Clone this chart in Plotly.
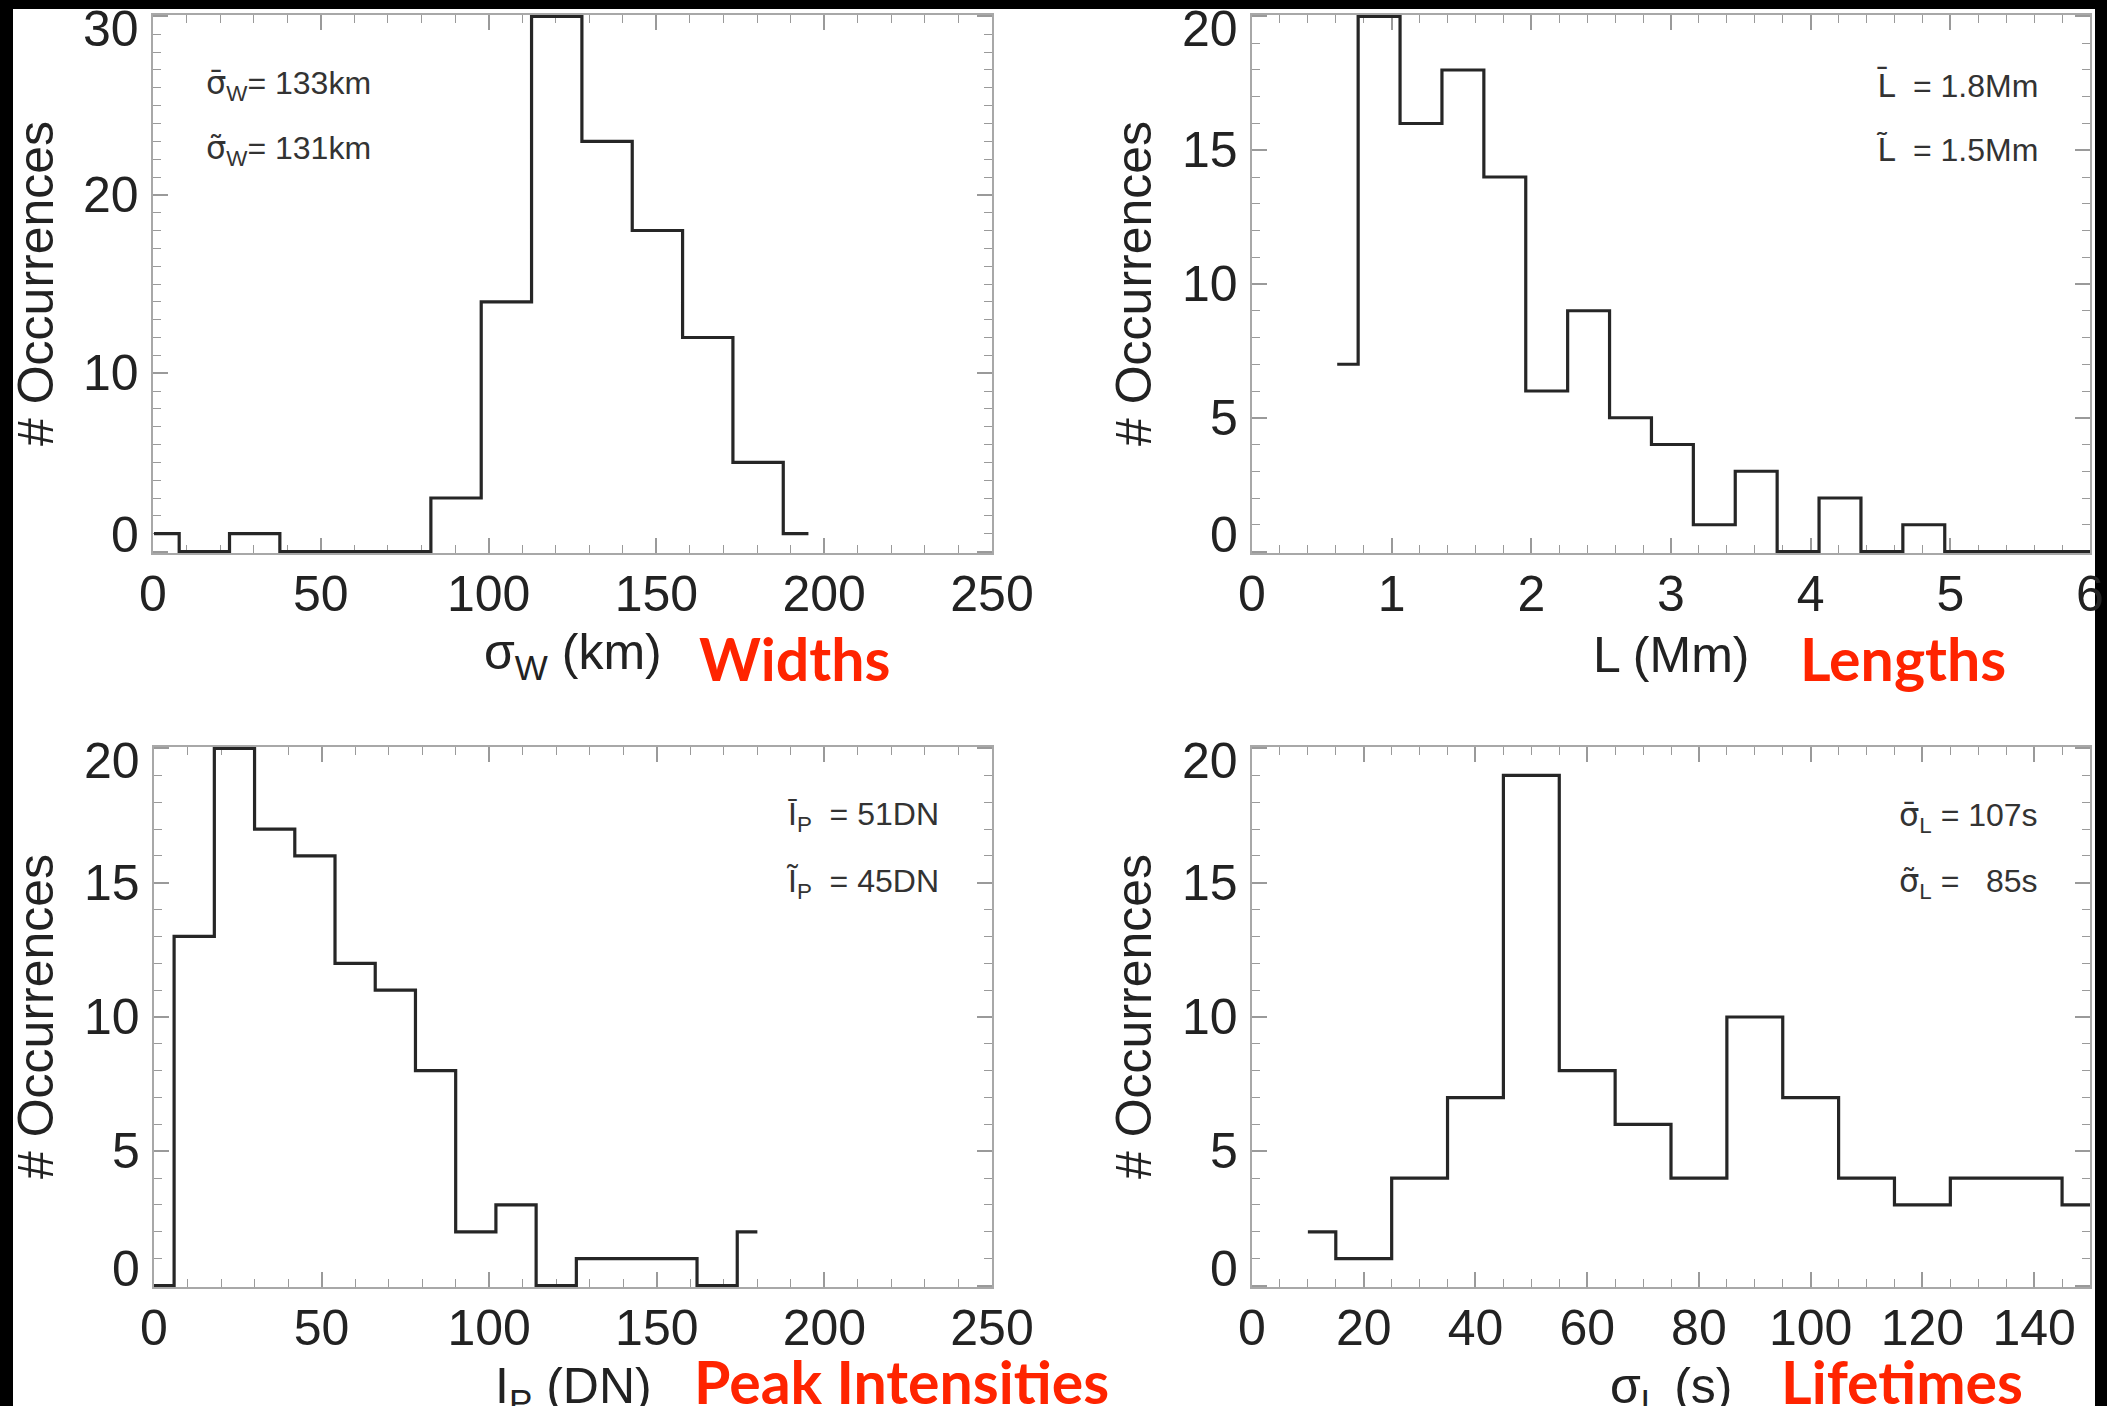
import plotly.graph_objects as go

W, H = 2107, 1406

# ---- histogram data (bin centres and counts) ----
widths_x = [0.3, 15.3, 30.3, 45.3, 60.3, 75.3, 90.3, 105.3, 120.3, 135.3, 150.3, 165.3, 180.3, 195.3]
widths_n = [1, 0, 1, 0, 0, 0, 3, 14, 30, 23, 18, 12, 5, 1]

lengths_x = [0.61, 0.91, 1.21, 1.51, 1.81, 2.11, 2.41, 2.71, 3.01, 3.31, 3.61, 3.91,
             4.21, 4.51, 4.81, 5.11, 5.41, 5.71, 6.01]
lengths_n = [7, 20, 16, 18, 14, 6, 9, 5, 4, 1, 3, 0, 2, 0, 1, 0, 0, 0, 0]

intens_x = [0, 12, 24, 36, 48, 60, 72, 84, 96, 108, 120, 132, 144, 156, 168, 180]
intens_n = [0, 13, 20, 17, 16, 12, 11, 8, 2, 3, 0, 1, 1, 1, 0, 2]

life_x = [10, 20, 30, 40, 50, 60, 70, 80, 90, 100, 110, 120, 130, 140, 150]
life_n = [2, 1, 4, 7, 19, 8, 6, 4, 10, 7, 4, 3, 4, 4, 3]

# ---- text ----
x_titles = ["σ<sub>W</sub> (km)", "L (Mm)", "I<sub>P</sub> (DN)", "σ<sub>L</sub> (s)"]
y_title = "# Occurrences"
panel_names = ["Widths", "Lengths", "Peak Intensities", "Lifetimes"]
MARK = "<span style='font-family:DejaVu Sans'>{}</span>"
stats = [
    [MARK.format("σ̄") + "<sub>W</sub>= 133km", MARK.format("σ̃") + "<sub>W</sub>= 131km"],
    [MARK.format("L̄") + "\u00a0 = 1.8Mm", MARK.format("L̃") + "\u00a0 = 1.5Mm"],
    ["Ī<sub>P</sub>\u00a0 = 51DN", "Ĩ<sub>P</sub>\u00a0 = 45DN"],
    [MARK.format("σ̄") + "<sub>L</sub> = 107s", MARK.format("σ̃") + "<sub>L</sub> =\u00a0\u00a0\u00a085s"],
]

# ---- panel layout (pixel boxes: left, top, right, bottom) ----
panels = [
    dict(x=widths_x, y=widths_n, xr=[0, 250], xd=50, xm=10, yr=[0, 30], yd=10, ym=1,
         box=(153, 15, 992, 553)),
    dict(x=lengths_x, y=lengths_n, xr=[0, 6], xd=1, xm=0.2, yr=[0, 20], yd=5, ym=1,
         box=(1252, 15, 2090, 553)),
    dict(x=intens_x, y=intens_n, xr=[0, 250], xd=50, xm=10, yr=[0, 20], yd=5, ym=1,
         box=(154, 747, 992, 1287)),
    dict(x=life_x, y=life_n, xr=[0, 150], xd=20, xm=5, yr=[0, 20], yd=5, ym=1,
         box=(1252, 747, 2090, 1287)),
]

FONT = "Liberation Sans, Arial, Helvetica, sans-serif"
TXT = "#222222"
FRAME = "#a8a8a8"
TICK = "#9a9a9a"
RED = "#ff2400"


def fx(p):
    return p / W


def fy(p):
    return 1 - p / H


fig = go.Figure()
layout = dict(
    width=W, height=H, autosize=False,
    margin=dict(l=0, r=0, t=0, b=0, pad=0, autoexpand=False),
    paper_bgcolor="black",
    plot_bgcolor="white",
    showlegend=False,
    shapes=[dict(type="rect", xref="paper", yref="paper",
                 x0=fx(13), x1=fx(2095), y0=0, y1=fy(9),
                 fillcolor="white", line=dict(width=0), layer="below")],
    annotations=[],
)

for i, p in enumerate(panels, start=1):
    sfx = "" if i == 1 else str(i)
    left, top, right, bottom = p["box"]
    ylo, yhi = p["yr"]
    upp = (yhi - ylo) / (bottom - top)  # data units per pixel
    pad = 1.5 * upp
    yrange = [ylo - pad, yhi + pad]

    fig.add_trace(go.Scatter(
        x=p["x"], y=p["y"], mode="lines",
        line=dict(shape="hvh", color="#262626", width=3.2),
        xaxis="x" + sfx, yaxis="y" + sfx, hoverinfo="skip",
    ))

    layout["xaxis" + sfx] = dict(
        domain=[fx(left), fx(right)], anchor="y" + sfx, range=p["xr"],
        tickmode="linear", tick0=0, dtick=p["xd"], automargin=False,
        showline=True, linecolor=FRAME, linewidth=2, mirror="ticks",
        ticks="inside", ticklen=15, tickwidth=1.5, tickcolor=TICK,
        minor=dict(ticks="inside", ticklen=8, tickwidth=1.2, tickcolor=TICK,
                   dtick=p["xm"], tick0=0, showgrid=False),
        showgrid=False, zeroline=False, layer="below traces",
        tickfont=dict(family=FONT, size=50, color=TXT),
        ticklabelstandoff=-4,
    )
    layout["yaxis" + sfx] = dict(
        domain=[fy(bottom), fy(top)], anchor="x" + sfx, range=yrange,
        tickmode="linear", tick0=0, dtick=p["yd"], automargin=False,
        showline=True, linecolor=FRAME, linewidth=2, mirror="ticks",
        ticks="inside", ticklen=15, tickwidth=1.5, tickcolor=TICK,
        minor=dict(ticks="inside", ticklen=8, tickwidth=1.2, tickcolor=TICK,
                   dtick=p["ym"], tick0=0, showgrid=False),
        showgrid=False, zeroline=False, showticklabels=False, layer="below traces",
    )

    ann = layout["annotations"]
    # y value labels placed on the axis scale; end labels nudged inward off the corners
    vals = list(range(int(ylo), int(yhi) + 1, p["yd"]))
    for k, v in enumerate(vals):
        shift = 17 if k == 0 else (-13 if k == len(vals) - 1 else 0)
        ann.append(dict(xref="x" + sfx + " domain", yref="y" + sfx, x=0, y=v,
                        xshift=-12, yshift=shift, text=str(v), showarrow=False,
                        xanchor="right", yanchor="middle",
                        font=dict(family=FONT, size=50, color=TXT)))

    cx = (left + right) / 2
    cy = (top + bottom) / 2
    title_y = bottom + 102
    ytitle_x = 36 if i in (1, 3) else 1134
    ann.append(dict(xref="paper", yref="paper", x=fx(cx), y=fy(title_y),
                    text=x_titles[i - 1], showarrow=False, xanchor="center", yanchor="middle",
                    font=dict(family=FONT, size=50, color=TXT)))
    ann.append(dict(xref="paper", yref="paper", x=fx(ytitle_x), y=fy(cy),
                    text=y_title, textangle=-90, showarrow=False,
                    xanchor="center", yanchor="middle",
                    font=dict(family=FONT, size=50, color=TXT)))

# red panel captions
captions = [(794, 658), (1903, 658), (901, 1381), (1902, 1381)]
for (cxp, cyp), name in zip(captions, panel_names):
    layout["annotations"].append(dict(
        xref="paper", yref="paper", x=fx(cxp), y=fy(cyp), text="<b>" + name + "</b>",
        showarrow=False, xanchor="center", yanchor="middle",
        font=dict(family="Lato, Open Sans, sans-serif", size=59, color=RED)))

# mean / median boxes
stat_pos = [
    (204, "left", (85, 150)),
    (2040, "right", (85, 150)),
    (941, "right", (817, 883)),
    (2040, "right", (817, 883)),
]
for (sx, anchor, ys), lines in zip(stat_pos, stats):
    for yy, t in zip(ys, lines):
        layout["annotations"].append(dict(
            xref="paper", yref="paper", x=fx(sx), y=fy(yy), text=t,
            showarrow=False, xanchor=anchor, yanchor="middle",
            font=dict(family=FONT, size=32, color="#333333")))

fig.update_layout(**layout)
fig.write_html("out.html")
